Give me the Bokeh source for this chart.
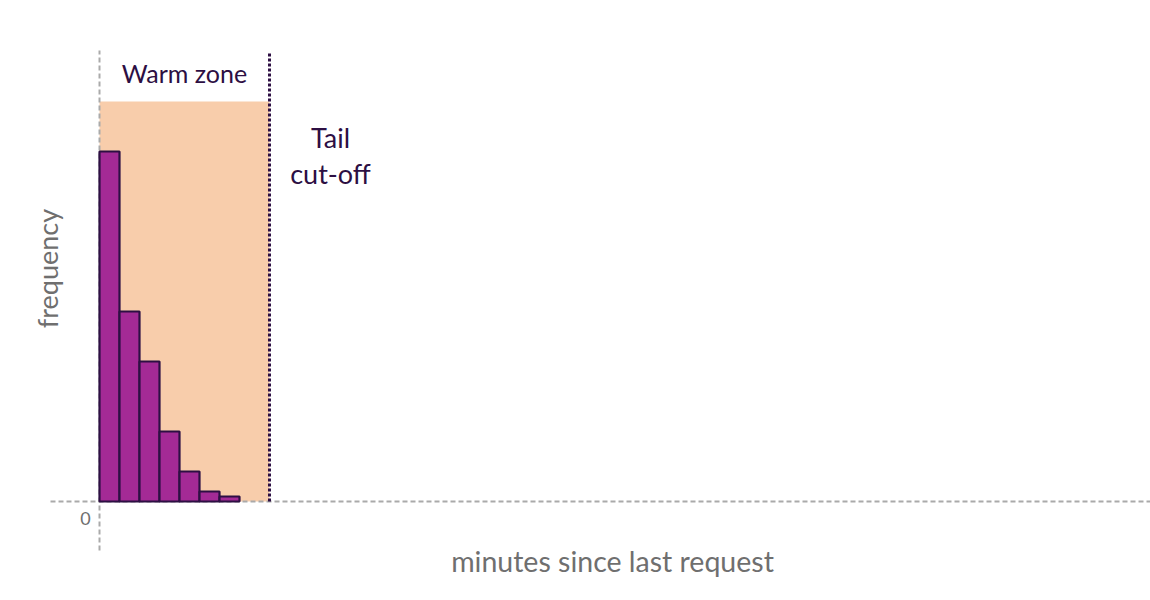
import math
from bokeh.plotting import figure
from bokeh.models import Label, ColumnDataSource, Range1d
from bokeh.embed import file_html
from bokeh.resources import INLINE

# ---- data ----
bin_edges = [0, 1, 2, 3, 4, 5, 6, 7]          # minutes
counts = [70, 38, 28, 14, 6, 2, 1]            # frequency per bin
cutoff = 8.5                                  # tail cut-off (minutes)
warm_top = 80                                 # height of warm-zone band
x_extent = [-2.45, 52.55]                     # drawn extent of zero line (x)
y_extent = [-9.8, 90.2]                       # drawn extent of zero line (y)
x_label = "minutes since last request"
y_label = "frequency"
zone_label = "Warm zone"
cutoff_label = "Tail\ncut-off"

FONT = "Lato"
DARK = "#2d0f43"
GRAY = "#6f6f6f"

p = figure(width=1150, height=598, output_backend="svg", toolbar_location=None,
           x_range=Range1d(-4.95, 52.55), y_range=Range1d(-19.4, 100.2),
           min_border_left=0, min_border_right=0, min_border_top=0, min_border_bottom=0)
p.axis.visible = False
p.grid.visible = False
p.outline_line_color = None
p.background_fill_color = "white"

# warm zone band
p.quad(left=[0], right=[cutoff], bottom=[0], top=[warm_top],
       fill_color="#f8cdab", line_color=None)

# zero lines (dashed axes)
p.segment(x0=[x_extent[0], 0], y0=[0, y_extent[0]], x1=[x_extent[1], 0], y1=[0, y_extent[1]],
          line_color="#aaaaaa", line_dash="5 3", line_width=2)

# histogram bars
src = ColumnDataSource(dict(left=bin_edges[:-1], right=bin_edges[1:], top=counts))
p.quad(left="left", right="right", bottom=0, top="top", source=src,
       fill_color="#a42a95", line_color=DARK, line_width=2.2)

# cut-off line
p.segment(x0=[cutoff], y0=[0], x1=[cutoff], y1=[y_extent[1] - 0.2], line_color=DARK,
          line_width=3, line_dash="3 2")

# annotations
p.add_layout(Label(x=cutoff / 2, y=85.8, text=zone_label, text_font=FONT,
                   text_font_size="25px", text_color=DARK,
                   text_align="center", text_baseline="middle"))
p.add_layout(Label(x=11.55, y=69.2, text=cutoff_label, text_font=FONT,
                   text_font_size="27px", text_color=DARK, text_line_height=1.1,
                   text_align="center", text_baseline="middle"))
p.add_layout(Label(x=25.65, y=-11.8, text=x_label, text_font=FONT,
                   text_font_size="28.5px", text_color=GRAY,
                   text_align="center", text_baseline="middle"))
p.add_layout(Label(x=-2.6, y=46.6, text=y_label, text_font=FONT, angle=math.pi / 2,
                   text_font_size="27px", text_color=GRAY,
                   text_align="center", text_baseline="middle"))
p.add_layout(Label(x=-0.7, y=-3.4, text="0", text_font=FONT,
                   text_font_size="18px", text_color=GRAY,
                   text_align="center", text_baseline="middle"))

open("out.html", "w").write(file_html(p, INLINE))
